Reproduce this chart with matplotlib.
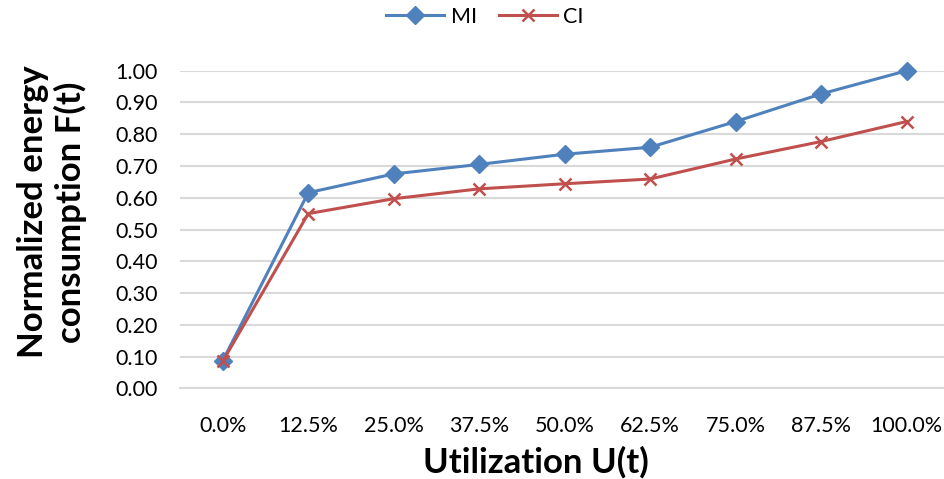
import matplotlib
matplotlib.use("Agg")
import matplotlib.pyplot as plt

categories = ["0.0%", "12.5%", "25.0%", "37.5%", "50.0%", "62.5%", "75.0%", "87.5%", "100.0%"]
mi_values = [0.087, 0.616, 0.675, 0.705, 0.737, 0.759, 0.840, 0.927, 1.000]
ci_values = [0.085, 0.550, 0.597, 0.628, 0.644, 0.659, 0.722, 0.777, 0.840]
y_ticks = [0.0, 0.1, 0.2, 0.3, 0.4, 0.5, 0.6, 0.7, 0.8, 0.9, 1.0]

plt.rcParams["font.family"] = ["Lato", "DejaVu Sans"]

W, H = 945, 479
fig = plt.figure(figsize=(W / 100, H / 100), dpi=100)
left, right, top, bottom = 180, 949.5, 70.7, 388.3
ax = fig.add_axes([left / W, (H - bottom) / H, (right - left) / W, (bottom - top) / H])

x = list(range(len(categories)))
ax.plot(x, mi_values, color="#4F81BD", lw=2.2, marker="D", ms=9,
        mfc="#4F81BD", mec="#4F81BD", label="MI", clip_on=False, zorder=3)
ax.plot(x, ci_values, color="#C0504D", lw=2.2, marker="x", ms=8, mew=1.8,
        mec="#C0504D", label="CI", clip_on=False, zorder=4)

ax.set_xlim(-0.5, len(categories) - 0.5)
ax.set_ylim(0, 1.0)
ax.set_yticks(y_ticks)
ax.set_yticklabels([f"{v:.2f}" for v in y_ticks])
ax.set_xticks(x)
ax.set_xticklabels(categories)
ax.tick_params(axis="both", length=0, labelsize=15.5, colors="black")
ax.tick_params(axis="y", pad=16)
ax.tick_params(axis="x", pad=20)

ax.grid(axis="y", color="#D9D9D9", lw=1.5)
ax.set_axisbelow(True)
for s in ["top", "right", "left"]:
    ax.spines[s].set_visible(False)
ax.spines["bottom"].set_color("#D9D9D9")
ax.spines["bottom"].set_linewidth(1.5)

fig.text(536 / W, 1 - 462 / H, "Utilization U(t)", ha="center", va="center",
         fontsize=25, fontweight="bold")
fig.text(52 / W, 1 - 212 / H, "Normalized energy\nconsumption F(t)", ha="center",
         va="center", rotation=90, fontsize=25, fontweight="bold", linespacing=1.2)

fig.legend(loc="center", bbox_to_anchor=(485 / W, 1 - 17 / H), ncol=2, frameon=False,
           fontsize=15.5, handlelength=2.7, columnspacing=1.0, handletextpad=0.3)

fig.savefig("out.png", dpi=100)
